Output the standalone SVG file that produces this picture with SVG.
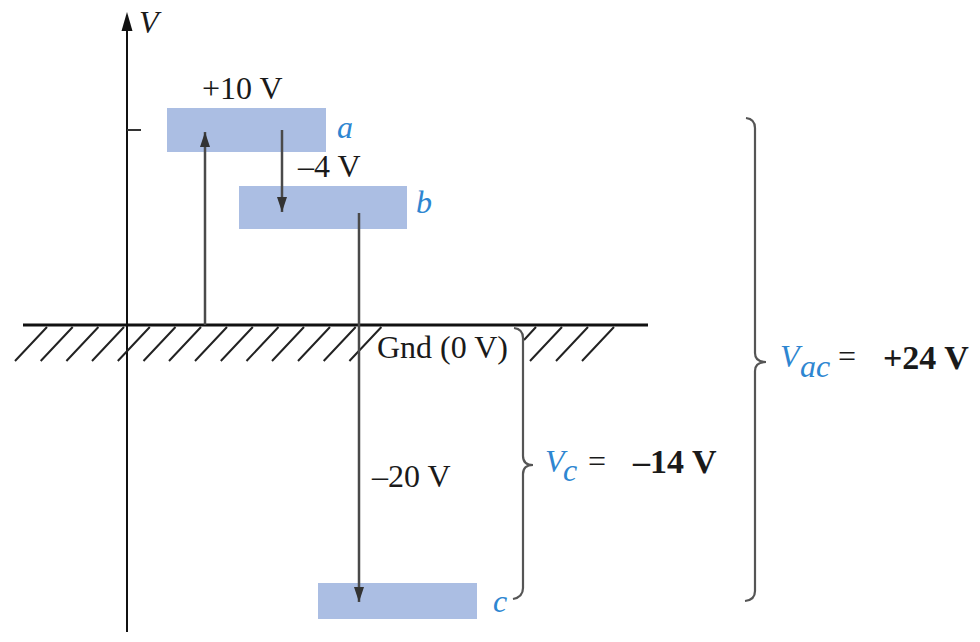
<svg xmlns="http://www.w3.org/2000/svg" width="980" height="642" viewBox="0 0 980 642">
<defs>
<marker id="ah" markerUnits="userSpaceOnUse" markerWidth="16" markerHeight="12" refX="15" refY="5" orient="auto">
<path d="M0,0 L15,5 L0,10 Z" fill="#333"/>
</marker>
<style>
.t{font-family:"Liberation Serif","Times New Roman",serif;font-size:32px;fill:#1a1a1a}
.b{font-weight:bold;font-size:34px}
.i{font-style:italic;fill:#2e86d1}
.box{fill:#abbee3}
.conn{stroke:#4a4a4a;stroke-width:2.5;fill:none}
.brace{stroke:#555;stroke-width:2.2;fill:none}
</style>
</defs>
<rect width="980" height="642" fill="#fff"/>
<g id="axis">
<line x1="127" y1="632" x2="127" y2="28" stroke="#111" stroke-width="2"/>
<polygon points="127,12 121.5,31 132.5,31" fill="#111"/>
<line x1="127" y1="130" x2="141" y2="130" stroke="#333" stroke-width="2"/>
<text class="t" x="139" y="33" font-style="italic" font-size="30" fill="#1f1f1f">V</text>
</g>
<g id="ground">
<line x1="23" y1="325" x2="648" y2="325" stroke="#111" stroke-width="3"/>
<path stroke="#222" stroke-width="2" fill="none" d="M47,327 L15,361 M72.7,327 L40.7,361 M98.4,327 L66.4,361 M124,327 L92,361 M149.8,327 L117.8,361 M175.5,327 L143.5,361 M201,327 L169,361 M227,327 L195,361 M252.8,327 L220.8,361 M278.5,327 L246.5,361 M304,327 L272,361 M330,327 L298,361 M355.7,327 L323.7,361 M381.4,327 L349.4,361 M536,327 L524,340 M562,327 L530,361 M588,327 L556,361 M614,327 L582,361"/>
<text class="t" x="377" y="358">Gnd (0 V)</text>
</g>
<g id="node-a">
<rect class="box" x="167" y="108" width="159" height="44"/>
<text class="t i" x="337" y="138">a</text>
</g>
<g id="node-b">
<rect class="box" x="239" y="186" width="168" height="43"/>
<text class="t i" x="416" y="213">b</text>
</g>
<g id="node-c">
<rect class="box" x="318" y="583" width="159" height="36"/>
<text class="t i" x="493" y="612">c</text>
</g>
<g id="connectors">
<line class="conn" x1="205" y1="325" x2="205" y2="132" marker-end="url(#ah)"/>
<line class="conn" x1="282" y1="130" x2="282" y2="212" marker-end="url(#ah)"/>
<line class="conn" x1="359" y1="213" x2="359" y2="602" marker-end="url(#ah)"/>
<text class="t" x="202" y="99">+10 V</text>
<text class="t" x="298" y="177">–4 V</text>
<text class="t" x="372" y="487">–20 V</text>
</g>
<g id="brace-vc">
<path class="brace" d="M514,328 Q523,329 523,338 L523,456 Q523,465 533,465 Q523,465 523,474 L523,588 Q523,597 513,599"/>
<text class="t i" x="545" y="472">V</text>
<text class="t i" x="563" y="481" font-size="24">c</text>
<text class="t" x="588" y="472" font-size="34">=</text>
<text class="t b" x="633" y="473">–14 V</text>
</g>
<g id="brace-vac">
<path class="brace" d="M746,118 Q755,119 755,128 L755,353 Q755,362 766,362 Q755,362 755,371 L755,591 Q755,600 745,601"/>
<text class="t i" x="780" y="367">V</text>
<text class="t i" x="800" y="377" font-size="24">ac</text>
<text class="t" x="838" y="367" font-size="34">=</text>
<text class="t b" x="883" y="369">+24 V</text>
</g>
</svg>
